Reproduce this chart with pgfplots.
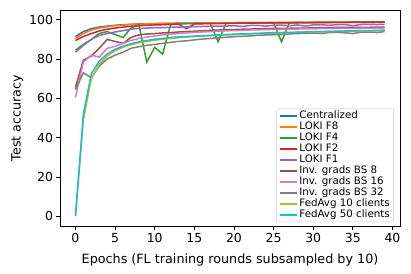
\documentclass[border=0pt]{standalone}
\usepackage{fontspec}
\setmainfont{DejaVu Sans}
\usepackage{pgfplots}
\usepackage{pgfplotstable}
\pgfplotsset{compat=1.18}
\definecolor{c0}{HTML}{1F77B4}
\definecolor{c1}{HTML}{FF7F0E}
\definecolor{c2}{HTML}{2CA02C}
\definecolor{c3}{HTML}{D62728}
\definecolor{c4}{HTML}{9467BD}
\definecolor{c5}{HTML}{8C564B}
\definecolor{c6}{HTML}{E377C2}
\definecolor{c7}{HTML}{7F7F7F}
\definecolor{c8}{HTML}{BCBD22}
\definecolor{c9}{HTML}{17BECF}
\pgfplotstableread{
x cen f8 f4 f2 f1 bs8 bs16 bs32 fa10 fa50
0 91.5 90.5 84.5 89.5 83.5 65.5 60.5 64.5 0 0
1 94.0 93.0 87.5 91.5 87.0 79.5 78.5 73.0 49.0 52.0
2 95.5 94.8 90.0 93.0 90.0 81.5 82.0 70.5 70.0 72.5
3 96.3 95.8 93.0 94.3 92.0 85.5 81.0 76.5 77.5 79.0
4 96.8 96.5 94.0 95.2 93.0 90.0 85.5 80.0 81.5 82.5
5 97.2 97.0 92.5 95.8 93.8 89.0 86.5 82.0 84.3 85.0
6 97.5 97.3 91.0 96.3 94.5 88.0 88.0 83.5 86.0 86.6
7 97.7 97.6 95.8 96.7 95.2 91.0 89.5 85.5 87.3 87.8
8 97.9 97.8 97.5 97.0 95.6 92.3 90.5 86.3 88.3 88.8
9 98.0 97.9 78.5 97.2 95.8 92.8 91.2 87.0 89.0 89.5
10 98.1 98.0 86.0 97.4 96.0 93.0 91.8 87.5 89.6 90.1
11 98.2 98.1 82.5 97.5 96.0 93.3 92.3 88.0 90.1 90.5
12 98.2 98.2 97.6 97.7 96.2 93.5 92.7 88.5 90.5 91.0
13 98.3 98.2 97.8 97.8 96.3 93.8 93.0 89.0 90.9 91.3
14 98.3 98.3 98.0 95.5 96.4 94.0 93.3 89.3 91.2 91.5
15 98.4 98.3 98.0 97.9 96.5 94.2 93.6 89.8 91.5 91.7
16 98.4 98.4 98.1 98.0 96.6 94.4 93.8 90.2 91.7 91.9
17 98.4 98.4 98.2 98.1 96.7 94.6 94.0 90.5 91.9 92.1
18 98.5 98.5 88.8 98.1 96.8 94.8 94.2 90.8 92.1 92.3
19 98.5 98.5 98.2 98.2 96.8 95.0 94.4 91.1 92.3 92.5
20 98.5 98.5 98.3 98.2 97.0 95.0 94.5 91.4 92.5 92.7
21 98.6 98.6 98.3 98.3 96.6 95.2 94.6 91.6 92.7 92.8
22 98.5 98.6 98.4 98.3 97.1 95.3 94.8 91.8 92.8 93.0
23 98.6 98.6 98.4 98.4 97.2 95.4 94.9 92.1 93.0 93.1
24 98.6 98.6 98.4 98.4 96.8 95.5 95.0 92.3 93.1 93.3
25 98.6 98.7 98.5 98.5 97.2 95.6 95.1 92.4 93.2 93.4
26 98.6 98.7 88.8 98.5 97.3 95.6 95.2 92.6 93.4 93.5
27 98.6 98.7 98.5 98.5 97.0 95.7 95.2 92.8 93.5 93.6
28 98.7 98.7 98.5 98.6 97.4 95.8 95.3 93.0 93.6 93.7
29 98.6 98.7 98.6 98.6 96.8 95.8 95.4 93.1 93.7 93.8
30 98.7 98.7 98.6 98.6 97.4 95.9 95.4 93.3 93.8 93.9
31 98.7 98.8 98.6 98.7 97.5 96.0 95.5 93.0 93.9 94.0
32 98.7 98.8 98.6 98.7 97.2 96.0 95.5 93.5 94.0 94.1
33 98.7 98.8 98.7 98.7 97.5 96.1 95.6 93.6 94.1 94.2
34 98.7 98.8 98.7 98.7 97.6 96.1 95.6 93.4 94.2 94.3
35 98.7 98.8 98.7 98.8 97.0 96.2 95.7 93.0 94.2 94.4
36 98.7 98.8 98.7 98.8 97.6 96.2 95.7 93.7 94.3 94.5
37 98.8 98.8 98.7 98.8 97.7 96.2 95.8 93.8 94.4 94.5
38 98.7 98.8 98.8 98.8 97.6 96.3 95.8 93.5 94.4 94.6
39 98.8 98.8 98.8 98.8 97.7 96.3 95.8 94.0 94.5 94.7
}\datatab
\begin{document}
\begin{tikzpicture}
\begin{axis}[
  name=ax,
  scale only axis,
  width=340bp, height=216bp,
  xmin=-1.95, xmax=40.95, ymin=-5, ymax=105,
  xtick={0,5,...,40}, ytick={0,20,...,100},
  tick align=outside, tick pos=left,
  major tick length=3.5bp,
  every tick/.style={black, line width=0.8bp},
  axis line style={line width=0.8bp},
  /pgf/number format/assume math mode=true,
  ticklabel style={font=\fontsize{12.5}{14}\selectfont},
  xlabel={Epochs (FL training rounds subsampled by 10)},
  ylabel={Test accuracy},
  label style={font=\fontsize{12.8}{14}\selectfont},
  xlabel style={yshift=-5bp},
  ylabel style={yshift=-1bp},
  legend cell align=left,
  legend style={at={(rel axis cs:0.982,0.018)}, anchor=south east,
    font=\fontsize{10.3}{12}\selectfont,
    draw=black!20, rounded corners=2bp, fill=white, fill opacity=0.8, text opacity=1, draw opacity=1,
    row sep=0bp, inner xsep=2bp, inner ysep=1.5bp,
    nodes={inner ysep=0bp, text height=8bp, text depth=3bp, outer ysep=1.5bp}},
  every axis plot/.append style={line width=1.5bp},
  legend image post style={line width=1.8bp},
]
\addplot[c0] table[x=x,y=cen] {\datatab};
\addlegendentry{Centralized}
\addplot[c1] table[x=x,y=f8] {\datatab};
\addlegendentry{LOKI F8}
\addplot[c2] table[x=x,y=f4] {\datatab};
\addlegendentry{LOKI F4}
\addplot[c3] table[x=x,y=f2] {\datatab};
\addlegendentry{LOKI F2}
\addplot[c4] table[x=x,y=f1] {\datatab};
\addlegendentry{LOKI F1}
\addplot[c5] table[x=x,y=bs8] {\datatab};
\addlegendentry{Inv. grads BS 8}
\addplot[c6] table[x=x,y=bs16] {\datatab};
\addlegendentry{Inv. grads BS 16}
\addplot[c7] table[x=x,y=bs32] {\datatab};
\addlegendentry{Inv. grads BS 32}
\addplot[c8] table[x=x,y=fa10] {\datatab};
\addlegendentry{FedAvg 10 clients}
\addplot[c9] table[x=x,y=fa50] {\datatab};
\addlegendentry{FedAvg 50 clients}
\end{axis}
\path[use as bounding box] ([shift={(-60bp,-48bp)}]ax.south west) rectangle ([shift={(11bp,10bp)}]ax.north east);
\end{tikzpicture}
\end{document}
